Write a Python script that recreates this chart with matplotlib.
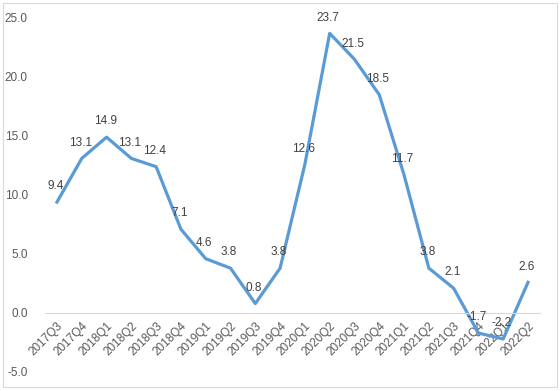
import matplotlib.pyplot as plt
from matplotlib.patches import Rectangle

quarters = ["2017Q3", "2017Q4", "2018Q1", "2018Q2", "2018Q3", "2018Q4",
            "2019Q1", "2019Q2", "2019Q3", "2019Q4", "2020Q1", "2020Q2",
            "2020Q3", "2020Q4", "2021Q1", "2021Q2", "2021Q3", "2021Q4",
            "2022Q1", "2022Q2"]
values = [9.4, 13.1, 14.9, 13.1, 12.4, 7.1, 4.6, 3.8, 0.8, 3.8, 12.6, 23.7,
          21.5, 18.5, 11.7, 3.8, 2.1, -1.7, -2.2, 2.6]
yticks = [-5, 0, 5, 10, 15, 20, 25]

plt.rcParams['font.family'] = ['Liberation Sans', 'DejaVu Sans']

fig = plt.figure(figsize=(5.6, 3.91), dpi=100)
ax = fig.add_axes([0.0796, 0.0486, 0.8854, 0.9054])

# x axis line sits at zero, as in the source chart
for s in ['top', 'right', 'left']:
    ax.spines[s].set_visible(False)
ax.spines['bottom'].set_position(('data', 0))
ax.spines['bottom'].set_color('#D9D9D9')
ax.spines['bottom'].set_linewidth(0.8)

x = list(range(len(quarters)))
ax.plot(x, values, color='#5B9BD5', lw=2.3, solid_joinstyle='round')

for xi, v in zip(x, values):
    ax.annotate(f"{v:.1f}", (xi, v), xytext=(-1, 7), textcoords='offset points',
                ha='center', va='bottom', fontsize=8.5, color='#404040')

ax.set_xlim(-0.5, len(quarters) - 0.5)
ax.set_ylim(-5, 25)
ax.set_yticks(yticks)
ax.set_yticklabels([f"{t:.1f}" for t in yticks], fontsize=8.5, color='#595959')
ax.set_xticks(x)
ax.set_xticklabels(quarters, rotation=45, ha='right', va='top',
                   rotation_mode='anchor', fontsize=8.5, color='#595959')
ax.tick_params(length=0)
ax.tick_params(axis='x', pad=5)
ax.tick_params(axis='y', pad=12)

fig.patches.append(Rectangle((3 / 560, 4 / 391), 554 / 560, 384 / 391,
                             transform=fig.transFigure, fill=False,
                             edgecolor='#D9D9D9', lw=0.8))

fig.savefig("out.png", dpi=100)
